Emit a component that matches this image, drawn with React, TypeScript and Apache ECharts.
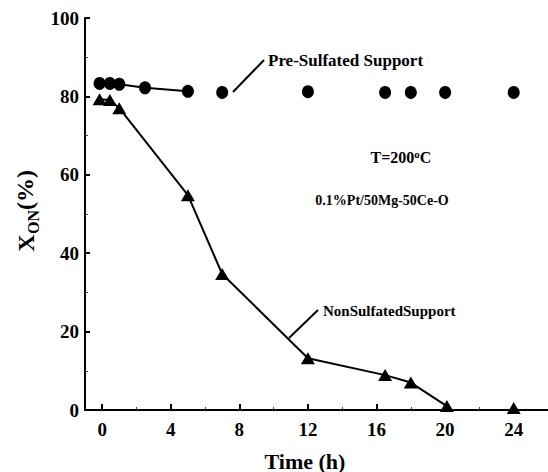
import React, { useEffect, useRef } from "react";
import * as echarts from "echarts";

// Pre-sulfated support: points joined by a line, then loose points
const preLinkedTime = [-0.15, 0.45, 1, 2.5, 5];
const preLinkedValue = [83.3, 83.3, 83.1, 82.2, 81.3];
const preLooseTime = [7, 12, 16.5, 18, 20, 24];
const preLooseValue = [81, 81.2, 81, 81, 81, 81];

// Non-sulfated support
const nonLinkedTime = [-0.15, 0.45, 1, 5, 7, 12, 16.5, 18, 20.1];
const nonLinkedValue = [79.3, 79.1, 77, 54.8, 34.7, 13.2, 8.9, 7.0, 1.0];
const nonLooseTime = [24];
const nonLooseValue = [0.5];

const xMajorTicks = [0, 4, 8, 12, 16, 20, 24];
const xMinorTicks = [2, 6, 10, 14, 18, 22];

const FONT = "'Liberation Serif', 'Times New Roman', serif";

const zip = (xs: number[], ys: number[]) => xs.map((x, i) => [x, ys[i]]);

export default function App() {
  const ref = useRef<HTMLDivElement>(null);
  useEffect(() => {
    if (!ref.current) return;
    const chart = echarts.init(ref.current, null, { renderer: "svg" });
    const labelRich = {
      t: { fontFamily: FONT, fontWeight: "bold", fontSize: 19, color: "#000" },
    };
    const textBase = {
      fill: "#000",
      fontFamily: FONT,
      fontWeight: "bold",
    };
    chart.setOption({
      animation: false,
      backgroundColor: "#fff",
      textStyle: { fontFamily: FONT, fontWeight: "bold", color: "#000" },
      grid: { left: 85, right: 0, top: 18, bottom: 62, containLabel: false },
      xAxis: [
        {
          type: "value",
          min: -1,
          max: 26,
          position: "bottom",
          splitLine: { show: false },
          axisLine: { show: true, onZero: false, lineStyle: { color: "#000", width: 2 } },
          axisTick: {
            show: true,
            inside: true,
            length: 6,
            customValues: xMajorTicks,
            lineStyle: { color: "#000", width: 2 },
          },
          axisLabel: {
            margin: 10,
            customValues: xMajorTicks,
            fontFamily: FONT,
            fontWeight: "bold",
            fontSize: 19,
            color: "#000",
            formatter: (v: number) => `{t|${v}}`,
            rich: labelRich,
          },
        },
        {
          type: "value",
          min: -1,
          max: 26,
          position: "bottom",
          splitLine: { show: false },
          axisLine: { show: false, onZero: false },
          axisTick: {
            show: true,
            inside: true,
            length: 3,
            customValues: xMinorTicks,
            lineStyle: { color: "#444", width: 1 },
          },
          axisLabel: { show: false },
        },
      ],
      yAxis: {
        type: "value",
        min: 0,
        max: 100,
        interval: 20,
        splitLine: { show: false },
        axisLine: { show: true, onZero: false, lineStyle: { color: "#000", width: 2 } },
        axisTick: { show: true, inside: true, length: 5, lineStyle: { color: "#000", width: 2 } },
        minorTick: { show: true, splitNumber: 2, length: 3, lineStyle: { color: "#444", width: 1 } },
        minorSplitLine: { show: false },
        axisLabel: {
          margin: 6,
          fontFamily: FONT,
          fontWeight: "bold",
          fontSize: 19,
          color: "#000",
          formatter: (v: number) => `{t|${v}}`,
          rich: labelRich,
        },
      },
      series: [
        {
          type: "line",
          data: zip(preLinkedTime, preLinkedValue),
          symbol: "circle",
          symbolSize: [12, 13],
          itemStyle: { color: "#000" },
          lineStyle: { color: "#000", width: 2 },
          clip: false,
          z: 3,
        },
        {
          type: "scatter",
          data: zip(preLooseTime, preLooseValue),
          symbol: "circle",
          symbolSize: [12, 13],
          itemStyle: { color: "#000", opacity: 1 },
          clip: false,
          z: 3,
        },
        {
          type: "line",
          data: zip(nonLinkedTime, nonLinkedValue),
          symbol: "triangle",
          symbolSize: [14, 12],
          itemStyle: { color: "#000" },
          lineStyle: { color: "#000", width: 2 },
          clip: false,
          z: 3,
        },
        {
          type: "scatter",
          data: zip(nonLooseTime, nonLooseValue),
          symbol: "triangle",
          symbolSize: [14, 12],
          itemStyle: { color: "#000", opacity: 1 },
          clip: false,
          z: 3,
        },
      ],
      graphic: [
        // leader lines
        { type: "line", shape: { x1: 233, y1: 92, x2: 264, y2: 60 }, style: { stroke: "#000", lineWidth: 2 } },
        { type: "line", shape: { x1: 289, y1: 338, x2: 318, y2: 310 }, style: { stroke: "#000", lineWidth: 2 } },
        // annotations
        {
          type: "text",
          x: 268,
          y: 60,
          style: { ...textBase, text: "Pre-Sulfated Support", fontSize: 17, align: "left", verticalAlign: "middle" },
        },
        {
          type: "text",
          x: 323,
          y: 311,
          style: { ...textBase, text: "NonSulfatedSupport", fontSize: 15, align: "left", verticalAlign: "middle" },
        },
        {
          type: "text",
          x: 401,
          y: 157,
          style: {
            ...textBase,
            text: "{m|T=200}{s|o}{m|C}",
            align: "center",
            verticalAlign: "middle",
            rich: {
              m: { fontFamily: FONT, fontWeight: "bold", fontSize: 16, fill: "#000", lineHeight: 18 },
              s: { fontFamily: FONT, fontWeight: "bold", fontSize: 11, fill: "#000", verticalAlign: "top", lineHeight: 18, padding: [0, 0, 8, 0] },
            },
          },
        },
        {
          type: "text",
          x: 382,
          y: 200,
          style: { ...textBase, text: "0.1%Pt/50Mg-50Ce-O", fontSize: 14, align: "center", verticalAlign: "middle" },
        },
        // axis titles
        {
          type: "text",
          x: 305,
          y: 461,
          style: { ...textBase, text: "Time (h)", fontSize: 22, align: "center", verticalAlign: "middle" },
        },
        {
          type: "text",
          x: 26,
          y: 243,
          rotation: Math.PI / 2,
          style: { ...textBase, text: "X", fontSize: 24, align: "center", verticalAlign: "middle" },
        },
        {
          type: "text",
          x: 33,
          y: 222,
          rotation: Math.PI / 2,
          style: { ...textBase, text: "ON", fontSize: 16, align: "center", verticalAlign: "middle" },
        },
        {
          type: "text",
          x: 25,
          y: 190,
          rotation: Math.PI / 2,
          style: { ...textBase, text: "(%)", fontSize: 24, align: "center", verticalAlign: "middle" },
        },
      ],
    });
    return () => chart.dispose();
  }, []);
  return (
    <div
      ref={ref}
      style={{ position: "fixed", left: 0, top: 0, width: 548, height: 472 }}
    />
  );
}
